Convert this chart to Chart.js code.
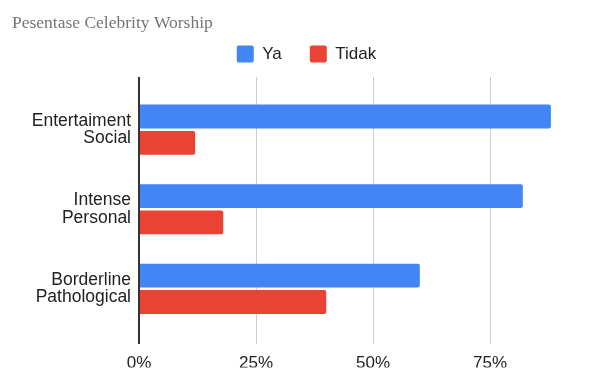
<!DOCTYPE html>
<html lang="id">
<head>
    <meta charset="UTF-8">
    <title>Pesentase Celebrity Worship</title>
    <script src="https://cdn.jsdelivr.net/npm/chart.js"></script>
    <style>
        body { margin: 0; background: #fff; }
        #wrap { width: 596px; height: 369px; }
    </style>
</head>
<body>
    <div id="wrap">
        <canvas id="barChart"></canvas>
    </div>

    <script>
        // data (persen)
        const categories = ['Entertaiment Social', 'Intense Personal', 'Borderline Pathological'];
        const seriesNames = ['Ya', 'Tidak'];
        const yaValues = [88, 82, 60];
        const tidakValues = [12, 18, 40];
        const xTicks = [0, 25, 50, 75];

        const sansFont = "'Liberation Sans', Arial, sans-serif";

        // legend a bit taller so the plot starts lower, and nudged right
        const legendPad = {
            id: 'legendPad',
            beforeInit(chart) {
                const fit = chart.legend.fit;
                chart.legend.fit = function () {
                    fit.bind(chart.legend)();
                    this.height += 4.5;
                };
            },
            afterLayout(chart) {
                chart.legend.left += 7.5;
                chart.legend.right += 7.5;
            }
        };

        const ctx = document.getElementById('barChart').getContext('2d');
        new Chart(ctx, {
            type: 'bar',
            data: {
                datasets: [
                    {
                        label: seriesNames[0],
                        data: yaValues.map((v, i) => ({ x: v, y: i })),
                        backgroundColor: '#4285F4',
                        borderRadius: 2,
                        borderSkipped: 'start',
                        categoryPercentage: 0.6625,
                        barPercentage: 0.906
                    },
                    {
                        label: seriesNames[1],
                        data: tidakValues.map((v, i) => ({ x: v, y: i })),
                        backgroundColor: '#EA4335',
                        borderRadius: 2,
                        borderSkipped: 'start',
                        categoryPercentage: 0.6625,
                        barPercentage: 0.906
                    }
                ]
            },
            options: {
                indexAxis: 'y',
                responsive: true,
                maintainAspectRatio: false,
                animation: false,
                layout: { padding: { left: 12, right: 10, top: 0, bottom: 0 } },
                plugins: {
                    title: {
                        display: true,
                        text: 'Pesentase Celebrity Worship',
                        align: 'start',
                        color: '#757575',
                        font: { family: "'Liberation Serif', 'Times New Roman', serif", size: 17.5, weight: 'normal' },
                        padding: { top: 13, bottom: -16.5 }
                    },
                    legend: {
                        position: 'top',
                        align: 'center',
                        labels: {
                            boxWidth: 17,
                            boxHeight: 17,
                            padding: 28,
                            color: '#222',
                            useBorderRadius: true,
                            borderRadius: 2,
                            font: { family: sansFont, size: 17 }
                        }
                    },
                    tooltip: { enabled: false }
                },
                scales: {
                    x: {
                        type: 'linear',
                        min: 0,
                        max: 95.5,
                        afterBuildTicks: (axis) => { axis.ticks = xTicks.map(v => ({ value: v })); },
                        afterFit: (axis) => { axis.height = 24; },
                        border: { display: false },
                        grid: {
                            drawTicks: false,
                            color: (c) => c.tick && c.tick.value === 0 ? '#333333' : '#cccccc',
                            lineWidth: (c) => c.tick && c.tick.value === 0 ? 2 : 1
                        },
                        ticks: {
                            padding: 10,
                            color: '#222',
                            font: { family: sansFont, size: 17 },
                            callback: (v) => v + '%'
                        }
                    },
                    y: {
                        type: 'linear',
                        reverse: true,
                        offset: false,
                        min: -0.6625,
                        max: 2.6875,
                        afterBuildTicks: (axis) => { axis.ticks = categories.map((c, i) => ({ value: i })); },
                        afterFit: (axis) => { axis.width = 127; },
                        border: { display: false },
                        grid: { display: false, drawTicks: false, offset: false },
                        ticks: {
                            padding: 8,
                            color: '#222',
                            font: { family: sansFont, size: 17.5, lineHeight: 1 },
                            callback: (v) => categories[v] ? categories[v].split(' ') : ''
                        }
                    }
                }
            },
            plugins: [legendPad]
        });
    </script>
</body>
</html>
